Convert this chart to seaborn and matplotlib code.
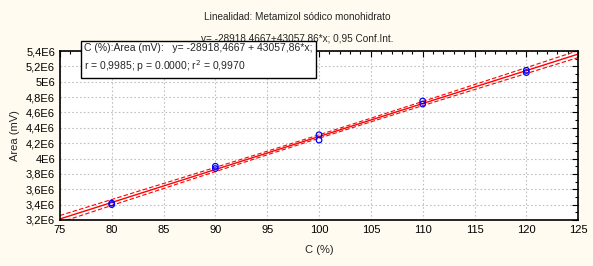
import numpy as np
import pandas as pd
import matplotlib
matplotlib.use("Agg")
import matplotlib.pyplot as plt
from matplotlib.ticker import MultipleLocator, FuncFormatter
import seaborn as sns

# data (Area in mV)
conc = [80, 80, 90, 90, 100, 100, 110, 110, 120, 120]
area = [3.40e6, 3.42e6, 3.87e6, 3.90e6, 4.24e6, 4.31e6, 4.71e6, 4.75e6, 5.12e6, 5.15e6]

title = "Linealidad: Metamizol sódico monohidrato"
subtitle = "y= -28918,4667+43057,86*x; 0,95 Conf.Int."
box_text = "C (%):Area (mV):   y= -28918,4667 + 43057,86*x;\nr = 0,9985; p = 0.0000; r$^2$ = 0,9970"

sns.set_style("white")
plt.rcParams["font.family"] = ["Liberation Sans", "DejaVu Sans"]

df = pd.DataFrame({"C (%)": conc, "Area (mV)": area})

fig = plt.figure(figsize=(5.93, 2.66), dpi=100, facecolor="#fffbf0")
ax = fig.add_axes([0.101, 0.173, 0.874, 0.635])
ax.set_facecolor("white")

ax.set_xlim(75, 125)
ax.set_ylim(3.2e6, 5.4e6)

# regression line over full x range + 95% confidence band drawn as dashed lines
x = np.array(conc, dtype=float)
y = np.array(area, dtype=float)
b, a = np.polyfit(x, y, 1)
xs = np.linspace(75, 125, 200)
ys = a + b * xs
n = len(x)
resid = y - (a + b * x)
s = np.sqrt(np.sum(resid ** 2) / (n - 2))
t = 2.306  # t(0.975, 8)
se = s * np.sqrt(1 / n + (xs - x.mean()) ** 2 / np.sum((x - x.mean()) ** 2))

sns.lineplot(x=xs, y=ys, color="red", lw=1.0, ax=ax)
sns.lineplot(x=xs, y=ys + t * se, color="red", lw=0.8, ls=(0, (4, 2)), ax=ax)
sns.lineplot(x=xs, y=ys - t * se, color="red", lw=0.8, ls=(0, (4, 2)), ax=ax)
sns.scatterplot(data=df, x="C (%)", y="Area (mV)", marker="o", s=16,
                facecolor="none", edgecolor="blue", linewidth=0.9, ax=ax, zorder=5)

ax.xaxis.set_major_locator(MultipleLocator(5))
ax.xaxis.set_minor_locator(MultipleLocator(1))
ax.yaxis.set_major_locator(MultipleLocator(0.2e6))
ax.yaxis.set_minor_locator(MultipleLocator(0.1e6))


def fmt(v, pos):
    s = "%g" % round(v / 1e6, 2)
    return s.replace(".", ",") + "E6"


ax.yaxis.set_major_formatter(FuncFormatter(fmt))
ax.tick_params(which="both", direction="in", top=True, right=True,
               labelsize=8, colors="black")
ax.tick_params(which="major", length=4, width=0.8)
ax.tick_params(which="minor", length=2, width=0.8)
ax.grid(True, which="major", color="#c0c0c0", ls=(0, (1.5, 2)), lw=0.8)
for sp in ax.spines.values():
    sp.set_color("black")
    sp.set_linewidth(1.2)

ax.set_xlabel("C (%)", fontsize=8, labelpad=7)
ax.set_ylabel("Area (mV)", fontsize=8, labelpad=4)

fig.text(0.502, 0.935, title, ha="center", va="center", fontsize=7.2)
fig.text(0.502, 0.855, subtitle, ha="center", va="center", fontsize=7.2)
fig.text(0.142, 0.78, box_text, ha="left", va="center", fontsize=7.5,
         linespacing=1.5, zorder=10,
         bbox=dict(boxstyle="square,pad=0.35", facecolor="white", edgecolor="black", lw=1.0))

fig.savefig("out.png", dpi=100, facecolor=fig.get_facecolor())
